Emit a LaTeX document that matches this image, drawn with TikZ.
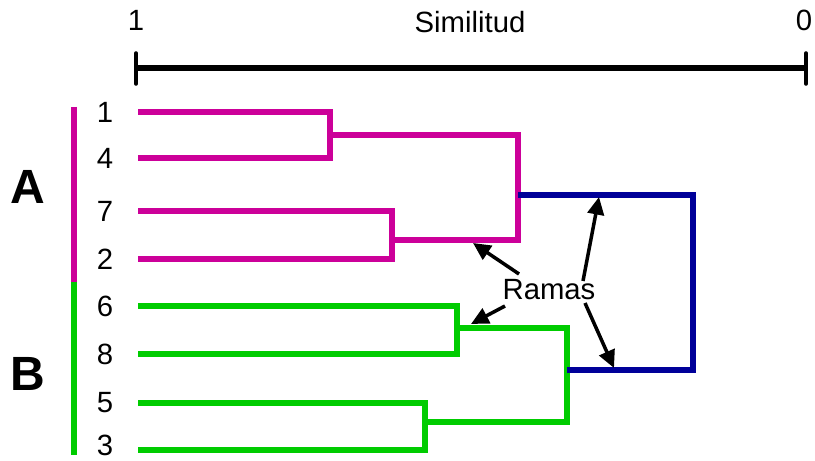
\documentclass[tikz,border=0pt]{standalone}
\usepackage{fontspec}
\setmainfont{Liberation Sans}
\usetikzlibrary{arrows.meta,positioning}
\definecolor{grpmag}{HTML}{CC0099}
\definecolor{grpgreen}{HTML}{00CC00}
\definecolor{rootblue}{HTML}{000099}

\begin{document}
\begin{tikzpicture}[x=0.03cm,y=-0.03cm,
    branch/.style={line width=4.3pt},
    txt/.style={inner sep=1pt,font=\fontsize{25}{30}\selectfont},
    grp/.style={font=\fontsize{41}{46}\selectfont\bfseries},
    ramarrow/.style={-{Triangle[length=15pt,width=14pt]},line width=3pt}]
    \useasboundingbox (0,0) rectangle (815,461);
    % similarity scale
    \draw[line width=4.3pt] (136,68) -- (806,68);
    \draw[line width=3pt,line cap=round] (136,53) -- (136,84) (806,53) -- (806,84);
    \node[txt] (one) at (136,20) {1};
    \node[txt] (zero) at (804,20) {0};
    \node[txt] (simil) at (470,22) {Similitud};
    % leaves
    \foreach \n/\y in {1/112,4/158,7/211,2/259,6/306,8/354,5/403,3/450} {
      \coordinate (s\n) at (138,\y);
    }
    \foreach \n/\y in {1/112,4/158,7/211,2/259,6/306,8/354,5/403,3/445} {
      \node[txt] (leaf\n) at (105,\y) {\n};
    }
    % merge points
    \coordinate (m14) at (330,135);
    \coordinate (m72) at (392,240);
    \coordinate (mA) at (518,195);
    \coordinate (m68) at (457,328);
    \coordinate (m53) at (425,422);
    \coordinate (mB) at (567,370);
    \coordinate (root) at (693,282);
    % group A
    \draw[branch,grpmag] (s1) -| (m14) (s4) -| (m14);
    \draw[branch,grpmag] (s7) -| (m72) (s2) -| (m72);
    \draw[branch,grpmag] (m14) -| (mA) (m72) -| (mA);
    % group B
    \draw[branch,grpgreen] (s6) -| (m68) (s8) -| (m68);
    \draw[branch,grpgreen] (s5) -| (m53) (s3) -| (m53);
    \draw[branch,grpgreen] (m68) -| (mB) (m53) -| (mB);
    % joining both groups
    \draw[branch,rootblue] (mA) -| (root) |- (mB);
    % group bars
    \draw[line width=5pt,grpmag] (74,107) -- (74,282);
    \draw[line width=5pt,grpgreen] (74,282) -- (74,455);
    \node[grp] (grpA) at (28,187) {A};
    \node[grp] (grpB) at (28,374) {B};
    % branch labels
    \node[txt] (ramas) at (549,290) {Ramas};
    \coordinate (fa) at (519,274);
    \coordinate (fb) at (505,306);
    \coordinate (fc) at (583,281);
    \coordinate (fd) at (585,303);
    \coordinate (ta) at (473,243);
    \coordinate (tb) at (471,324);
    \coordinate (tc) at (599,197);
    \coordinate (td) at (614,368);
    \draw[ramarrow] (fa) -- (ta);
    \draw[ramarrow] (fb) -- (tb);
    \draw[ramarrow] (fc) -- (tc);
    \draw[ramarrow] (fd) -- (td);
\end{tikzpicture}
\end{document}
